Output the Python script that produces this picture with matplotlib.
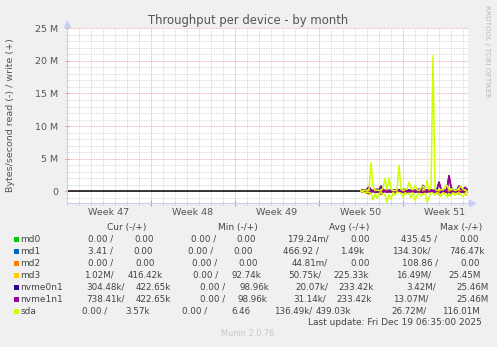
import numpy as np
import matplotlib
matplotlib.use("Agg")
import matplotlib.pyplot as plt
from matplotlib.patches import Rectangle
from matplotlib.ticker import MultipleLocator

# ---------------------------------------------------------------------------
# Data (bytes/second, in millions; 4-hour samples from day 24.5 of the window)
# ---------------------------------------------------------------------------

devices = ["md0", "md1", "md2", "md3", "nvme0n1", "nvme1n1", "sda"]
colors = ["#00CC00", "#0066B3", "#FF8000", "#FFCC00", "#330099", "#990099", "#CCFF00"]

sample_start = 24.5          # days
sample_step = 1 / 6          # 4 hours

md0_write = [0.0] * 54
md0_read = [0.0] * 54
md1_write = [0.0] * 54
md1_read = [0.0] * 54
md2_write = [0.0] * 54
md2_read = [0.0] * 54

md3_write = [0.1, 0.2, 0.2, 0.3, 0.6, 0.2, 0.1, 0.2, 0.3, 0.2,
             0.7, 0.2, 0.1, 0.2, 0.1, 0.2, 0.1, 0.2, 0.1, 0.2,
             0.1, 0.2, 0.4, 0.1, 0.2, 0.1, 0.2, 0.1, 0.2, 0.3,
             0.2, 0.8, 0.3, 0.2, 0.1, 0.2, 0.1, 0.2, 0.3, 1.3,
             0.3, 0.2, 0.1, 0.3, 2.3, 0.6, 0.2, 0.1, 0.2, 0.7,
             0.3, 0.2, 0.5, 0.3]
md3_read = [0.0, 0.1, 0.2, 0.3, 0.5, 0.1, 0.1, 0.1, 0.2, 0.1,
            0.6, 0.1, 0.1, 0.2, 0.1, 0.1, 0.0, 0.2, 0.1, 0.1,
            0.1, 0.2, 0.4, 0.1, 0.1, 0.1, 0.1, 0.2, 0.1, 0.2,
            0.1, 0.5, 0.1, 0.2, 0.1, 0.1, 0.1, 0.2, 0.1, 0.6,
            0.2, 0.1, 0.1, 0.2, 0.7, 0.3, 0.1, 0.2, 0.1, 0.5,
            0.2, 0.1, 0.4, 0.6]

nvme0n1_write = [0.1, 0.2, 0.2, 0.3, 0.7, 0.2, 0.1, 0.2, 0.3, 0.2,
                 0.8, 0.2, 0.1, 0.2, 0.1, 0.2, 0.1, 0.2, 0.1, 0.2,
                 0.1, 0.2, 0.4, 0.1, 0.2, 0.1, 0.2, 0.1, 0.2, 0.3,
                 0.2, 0.9, 0.3, 0.2, 0.1, 0.2, 0.1, 0.2, 0.3, 1.4,
                 0.3, 0.2, 0.1, 0.3, 2.4, 0.6, 0.2, 0.1, 0.2, 0.8,
                 0.3, 0.2, 0.6, 0.3]
nvme0n1_read = [0.0, 0.1, 0.1, 0.1, 0.2, 0.1, 0.0, 0.1, 0.1, 0.1,
                0.3, 0.1, 0.0, 0.1, 0.0, 0.1, 0.0, 0.1, 0.0, 0.1,
                0.0, 0.1, 0.2, 0.0, 0.1, 0.0, 0.1, 0.1, 0.0, 0.1,
                0.1, 0.2, 0.1, 0.1, 0.0, 0.1, 0.0, 0.1, 0.1, 0.3,
                0.1, 0.1, 0.0, 0.1, 0.3, 0.1, 0.1, 0.0, 0.1, 0.2,
                0.1, 0.1, 0.2, 0.1]

nvme1n1_write = [0.1, 0.2, 0.2, 0.3, 0.7, 0.2, 0.1, 0.2, 0.3, 0.2,
                 0.8, 0.2, 0.1, 0.2, 0.1, 0.2, 0.1, 0.2, 0.1, 0.2,
                 0.1, 0.2, 0.4, 0.1, 0.2, 0.1, 0.2, 0.1, 0.2, 0.3,
                 0.2, 0.9, 0.3, 0.2, 0.1, 0.2, 0.1, 0.2, 0.3, 1.4,
                 0.3, 0.2, 0.1, 0.3, 2.4, 0.6, 0.2, 0.1, 0.2, 0.8,
                 0.3, 0.2, 0.6, 0.3]
nvme1n1_read = [0.0, 0.1, 0.1, 0.2, 0.3, 0.1, 0.0, 0.1, 0.1, 0.1,
                0.4, 0.1, 0.0, 0.1, 0.1, 0.1, 0.0, 0.1, 0.0, 0.1,
                0.1, 0.1, 0.2, 0.1, 0.1, 0.0, 0.1, 0.1, 0.1, 0.1,
                0.1, 0.3, 0.1, 0.1, 0.0, 0.1, 0.1, 0.1, 0.1, 0.4,
                0.1, 0.1, 0.1, 0.1, 0.5, 0.2, 0.1, 0.1, 0.1, 0.3,
                0.1, 0.1, 0.2, 0.1]

sda_write = [0.1, 0.1, 0.2, 0.1, 0.3, 4.4, 0.8, 0.1, 0.2, 0.1,
             0.1, 0.5, 2.0, 0.2, 2.1, 0.3, 0.1, 0.1, 0.2, 4.0,
             0.3, 0.1, 0.4, 0.3, 1.4, 0.5, 0.2, 0.9, 0.2, 0.1,
             0.5, 0.8, 0.3, 1.6, 0.2, 0.6, 20.8, 0.3, 0.1, 0.2,
             0.3, 0.2, 0.7, 0.9, 0.2, 0.4, 0.3, 0.1, 0.2, 0.5,
             0.8, 0.3, 0.2, 0.0]
sda_read = [0.0, 0.1, 0.2, 0.1, 0.2, 0.3, 1.3, 0.4, 1.1, 0.3,
            0.2, 0.4, 0.6, 1.7, 0.5, 1.2, 0.2, 0.6, 0.1, 0.2,
            0.3, 0.9, 0.2, 0.4, 0.3, 1.0, 0.2, 1.4, 0.6, 0.3,
            0.8, 0.4, 0.3, 1.6, 1.0, 0.2, 0.3, 0.6, 0.2, 0.3,
            0.8, 0.2, 0.4, 0.9, 0.3, 0.7, 0.2, 0.6, 0.3, 0.2,
            0.5, 0.8, 0.3, 0.1]

series_write = [md0_write, md1_write, md2_write, md3_write,
                nvme0n1_write, nvme1n1_write, sda_write]
series_read = [md0_read, md1_read, md2_read, md3_read,
               nvme0n1_read, nvme1n1_read, sda_read]

week_names = ["Week 47", "Week 48", "Week 49", "Week 50", "Week 51"]
week_starts = [0, 7, 14, 21, 28]
yticks = [0, 5e6, 10e6, 15e6, 20e6, 25e6]
ytick_labels = ["0", "5 M", "10 M", "15 M", "20 M", "25 M"]

# legend table: read / write pairs
cur_read = ["0.00", "3.41", "0.00", "1.02M", "304.48k", "738.41k", "0.00"]
cur_write = ["0.00", "0.00", "0.00", "416.42k", "422.65k", "422.65k", "3.57k"]
min_read = ["0.00", "0.00", "0.00", "0.00", "0.00", "0.00", "0.00"]
min_write = ["0.00", "0.00", "0.00", "92.74k", "98.96k", "98.96k", "6.46"]
avg_read = ["179.24m", "466.92", "44.81m", "50.75k", "20.07k", "31.14k", "136.49k"]
avg_write = ["0.00", "1.49k", "0.00", "225.33k", "233.42k", "233.42k", "439.03k"]
max_read = ["435.45", "134.30k", "108.86", "16.49M", "3.42M", "13.07M", "26.72M"]
max_write = ["0.00", "746.47k", "0.00", "25.45M", "25.46M", "25.46M", "116.01M"]

# ---------------------------------------------------------------------------
# Layout (pixels of a 497x347 canvas)
# ---------------------------------------------------------------------------

W, H = 497, 347
BG = "#F0F0F0"
TXT = "#444444"
FS = 6.3

# left x of each legend cell, per row
cell_x = [
    [88.3, 134.3, 190.7, 236.7, 286.7, 350.7, 401.0, 459.3],
    [87.7, 133.3, 188.3, 233.3, 282.7, 340.0, 391.7, 449.3],
    [88.3, 135.0, 191.7, 238.3, 291.7, 350.0, 401.7, 460.0],
    [84.3, 127.5, 193.3, 231.7, 288.3, 333.3, 396.0, 448.3],
    [86.7, 136.0, 200.0, 239.0, 295.0, 338.3, 406.7, 456.7],
    [86.7, 136.0, 200.0, 237.3, 293.3, 336.0, 393.3, 456.7],
    [81.7, 125.0, 181.7, 231.7, 274.0, 315.5, 391.7, 441.7],
]
row_y = [239, 251, 263, 275, 287, 299, 311]


def fx(x):
    return x / W


def fy(y):
    return 1 - y / H


def read_cell(s):
    return s + ("/" if s[-1].isalpha() else " /")


plt.rcParams["font.family"] = ["DejaVu Sans"]
fig = plt.figure(figsize=(W / 100, H / 100), dpi=100, facecolor=BG)

left, right, top, bottom = 67, 468.3, 28.3, 202.7
x_max = 33.44
ax = fig.add_axes([fx(left), fy(bottom), (right - left) / W, (bottom - top) / H])
ax.set_facecolor("white")

t = sample_start + np.arange(len(sda_write)) * sample_step
for name, c, wr, rd in zip(devices, colors, series_write, series_read):
    ax.plot(t, np.array(wr) * 1e6, color=c, lw=1.1, zorder=3)
    ax.plot(t, -np.array(rd) * 1e6, color=c, lw=1.1, zorder=3)
ax.axhline(0, color="black", lw=1.1, zorder=2)

ax.set_xlim(0, x_max)
ax.set_ylim(-1.75e6, 25e6)

# grid: daily / 1M dotted grey, weekly / 5M dotted red
ax.set_xticks(week_starts[1:])
ax.xaxis.set_minor_locator(MultipleLocator(1))
ax.set_yticks(yticks)
ax.yaxis.set_minor_locator(MultipleLocator(1e6))
ax.grid(which="minor", color="#D0D0D0", linestyle=(0, (1, 1)), lw=0.6, zorder=0)
ax.grid(which="major", color="#EE9A9A", linestyle=(0, (1, 1)), lw=0.6, zorder=1)
ax.set_xticklabels([])
ax.set_yticklabels(ytick_labels)
ax.tick_params(axis="y", which="major", length=3, direction="inout", color="#E09090",
               labelsize=6.8, labelcolor="#555555", pad=5)
ax.tick_params(axis="y", which="minor", length=2, direction="inout", color="#C8C8C8")
ax.tick_params(axis="x", which="major", length=4, direction="inout", color="#E09090")
ax.tick_params(axis="x", which="minor", length=3, direction="inout", color="#C8C8C8")

for side in ("top", "right"):
    ax.spines[side].set_visible(False)
for side in ("left", "bottom"):
    ax.spines[side].set_color("#C8CEF4")
    ax.spines[side].set_linewidth(0.8)
ax.plot([0], [1.025], marker="^", ms=4, color="#C8CEF4", transform=ax.transAxes, clip_on=False)
ax.plot([1.01], [0], marker=">", ms=4, color="#C8CEF4", transform=ax.transAxes, clip_on=False)

# week names sit centred between the Monday lines, below the axes
px_per_day = (right - left) / x_max
for name, start in zip(week_names, week_starts):
    fig.text(fx(left + (start + 3.5) * px_per_day), fy(212.7), name,
             ha="center", va="center", fontsize=6.8, color="#555555")

fig.text(fx(248), fy(20.5), "Throughput per device - by month", ha="center", va="center",
         fontsize=8.4, color="#555555")
fig.text(fx(11), fy((top + bottom) / 2), "Bytes/second read (-) / write (+)", rotation=90,
         ha="center", va="center", fontsize=6.8, color="#555555")
fig.text(fx(487), fy(5), "RRDTOOL / TOBI OETIKER", rotation=270, ha="center", va="top",
         fontsize=5.2, color="#BBBBBB")

for label, x in zip(["Cur (-/+)", "Min (-/+)", "Avg (-/+)", "Max (-/+)"], [107, 218, 329, 440]):
    fig.text(fx(x), fy(227.3), label, ha="left", va="center", fontsize=FS + 0.2, color=TXT)

cells = list(zip(cur_read, cur_write, min_read, min_write,
                 avg_read, avg_write, max_read, max_write))
for i, (name, c) in enumerate(zip(devices, colors)):
    y = row_y[i]
    fig.patches.append(Rectangle((fx(14), fy(y + 2.5)), 5 / W, 5 / H, transform=fig.transFigure,
                                 facecolor=c, edgecolor="none"))
    fig.text(fx(20.5), fy(y), name, ha="left", va="center", fontsize=FS + 0.2, color=TXT)
    for j, s in enumerate(cells[i]):
        text = read_cell(s) if j % 2 == 0 else s
        fig.text(fx(cell_x[i][j]), fy(y), text, ha="left", va="center", fontsize=FS, color=TXT)

fig.text(fx(482), fy(322.7), "Last update: Fri Dec 19 06:35:00 2025", ha="right", va="center",
         fontsize=6.5, color=TXT)
fig.text(fx(248), fy(334), "Munin 2.0.76", ha="center", va="center", fontsize=5.9,
         color="#C8C8C8")

fig.savefig("out.png", dpi=100, facecolor=BG)
